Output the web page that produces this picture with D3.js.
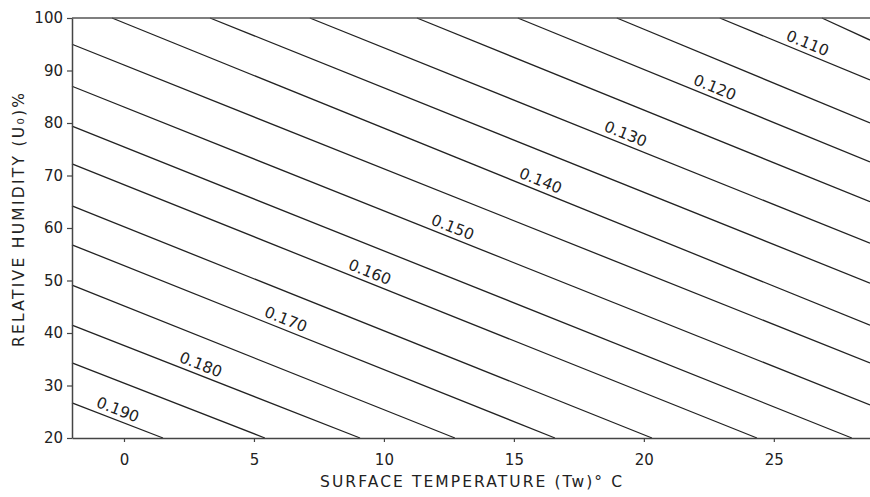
<!DOCTYPE html>
<html>
<head>
<meta charset="utf-8">
<script src="https://cdn.jsdelivr.net/npm/d3@7"></script>
<style>
    body { margin: 0; background: #fff; }
    svg { display: block; }
</style>
</head>
<body>
<svg id="chart"></svg>
<script>
// contour levels (evaporation coefficient)
const levels    = [0.105, 0.110, 0.115, 0.120, 0.125, 0.130, 0.135, 0.140, 0.145, 0.150, 0.155, 0.160, 0.165, 0.170, 0.175, 0.180, 0.185, 0.190];
const startTemp = [26.85, 22.92, 18.96, 15.15, 11.27, 7.15, 3.31, -0.46, -2, -2, -2, -2, -2, -2, -2, -2, -2, -2];
const startHum  = [100, 100, 100, 100, 100, 100, 100, 100, 95.0, 87.0, 79.4, 72.2, 64.2, 56.8, 49.1, 41.5, 34.3, 26.7];
const endTemp   = [28.7, 28.7, 28.7, 28.7, 28.7, 28.7, 28.7, 28.7, 28.7, 28.7, 28.0, 24.35, 20.31, 16.58, 12.73, 9.08, 5.42, 1.5];
const endHum    = [95.8, 88.2, 80.0, 72.6, 65.0, 57.1, 49.5, 41.5, 34.3, 26.3, 20, 20, 20, 20, 20, 20, 20, 20];

// labelled contours and the temperature where each label sits
const labelLevels = [0.110, 0.120, 0.130, 0.140, 0.150, 0.160, 0.170, 0.180, 0.190];
const labelTemps  = [26.15, 22.58, 19.15, 15.88, 12.5, 9.31, 6.08, 2.81, -0.38];

const xTicks = [0, 5, 10, 15, 20, 25];
const yTicks = [20, 30, 40, 50, 60, 70, 80, 90, 100];

const width = 870, height = 497;
const margin = {left: 72, top: 18, right: 0, bottom: 59};
const font = "'DejaVu Sans', sans-serif";
const ink = "#222";

const svg = d3.select("#chart")
    .attr("width", width)
    .attr("height", height);

const x = d3.scaleLinear()
    .domain([-2, 28.7])
    .range([margin.left, width - margin.right]);

const y = d3.scaleLinear()
    .domain([20, 100])
    .range([height - margin.bottom, margin.top]);

const contours = levels.map((lv, i) => ({
    level: lv,
    pts: [[startTemp[i], startHum[i]], [endTemp[i], endHum[i]]]
}));

const line = d3.line()
    .x(d => x(d[0]))
    .y(d => y(d[1]));

svg.append("g")
    .selectAll("path")
    .data(contours)
    .join("path")
    .attr("d", d => line(d.pts))
    .attr("fill", "none")
    .attr("stroke", ink)
    .attr("stroke-width", 1.3);

// top frame line
svg.append("path")
    .attr("d", line([[-2, 100], [28.7, 100]]))
    .attr("stroke", "#555")
    .attr("stroke-width", 1.5);

// axes
const yAxis = svg.append("g")
    .attr("transform", `translate(${margin.left},0)`)
    .call(d3.axisLeft(y).tickValues(yTicks).tickSize(5).tickSizeOuter(0).tickPadding(4));

const xAxis = svg.append("g")
    .attr("transform", `translate(0,${height - margin.bottom})`)
    .call(d3.axisBottom(x).tickValues(xTicks).tickSize(4).tickSizeOuter(0));

[yAxis, xAxis].forEach(ax => {
    ax.select(".domain").attr("stroke", "#444").attr("stroke-width", 1.5);
    ax.selectAll(".tick line").attr("stroke", "#444").attr("stroke-width", 1.2);
    ax.selectAll(".tick text")
        .attr("fill", ink)
        .style("font-family", font)
        .style("font-size", "15px");
});
xAxis.selectAll(".tick text").attr("y", 27).attr("dy", 0);

// axis titles
svg.append("text")
    .attr("x", 320)
    .attr("y", 487)
    .attr("textLength", 302)
    .attr("lengthAdjust", "spacing")
    .attr("fill", ink)
    .style("font-family", font)
    .style("font-size", "15.5px")
    .text("SURFACE TEMPERATURE (Tw)° C");

svg.append("text")
    .attr("transform", "translate(24,220) rotate(-90)")
    .attr("text-anchor", "middle")
    .attr("textLength", 254)
    .attr("lengthAdjust", "spacing")
    .attr("fill", ink)
    .style("font-family", font)
    .style("font-size", "15.5px")
    .text("RELATIVE HUMIDITY (U₀)%");

// contour labels, rotated along their line and sitting just above it
const fmt = d3.format(".3f");
const labels = labelLevels.map((lv, i) => {
    const c = contours.find(d => Math.abs(d.level - lv) < 1e-9);
    const [p0, p1] = c.pts;
    const t = labelTemps[i];
    const h = p0[1] + (p1[1] - p0[1]) * (t - p0[0]) / (p1[0] - p0[0]);
    const dx = x(p1[0]) - x(p0[0]), dy = y(p1[1]) - y(p0[1]);
    const ang = Math.atan2(dy, dx);
    const off = 10.5;
    return {
        text: fmt(lv),
        px: x(t) + off * Math.sin(ang),
        py: y(h) - off * Math.cos(ang),
        deg: ang * 180 / Math.PI
    };
});

svg.append("g")
    .selectAll("text")
    .data(labels)
    .join("text")
    .attr("transform", d => `translate(${d.px},${d.py}) rotate(${d.deg})`)
    .attr("text-anchor", "middle")
    .attr("dy", "0.36em")
    .attr("fill", ink)
    .style("font-family", font)
    .style("font-size", "15.5px")
    .text(d => d.text);
</script>
</body>
</html>
